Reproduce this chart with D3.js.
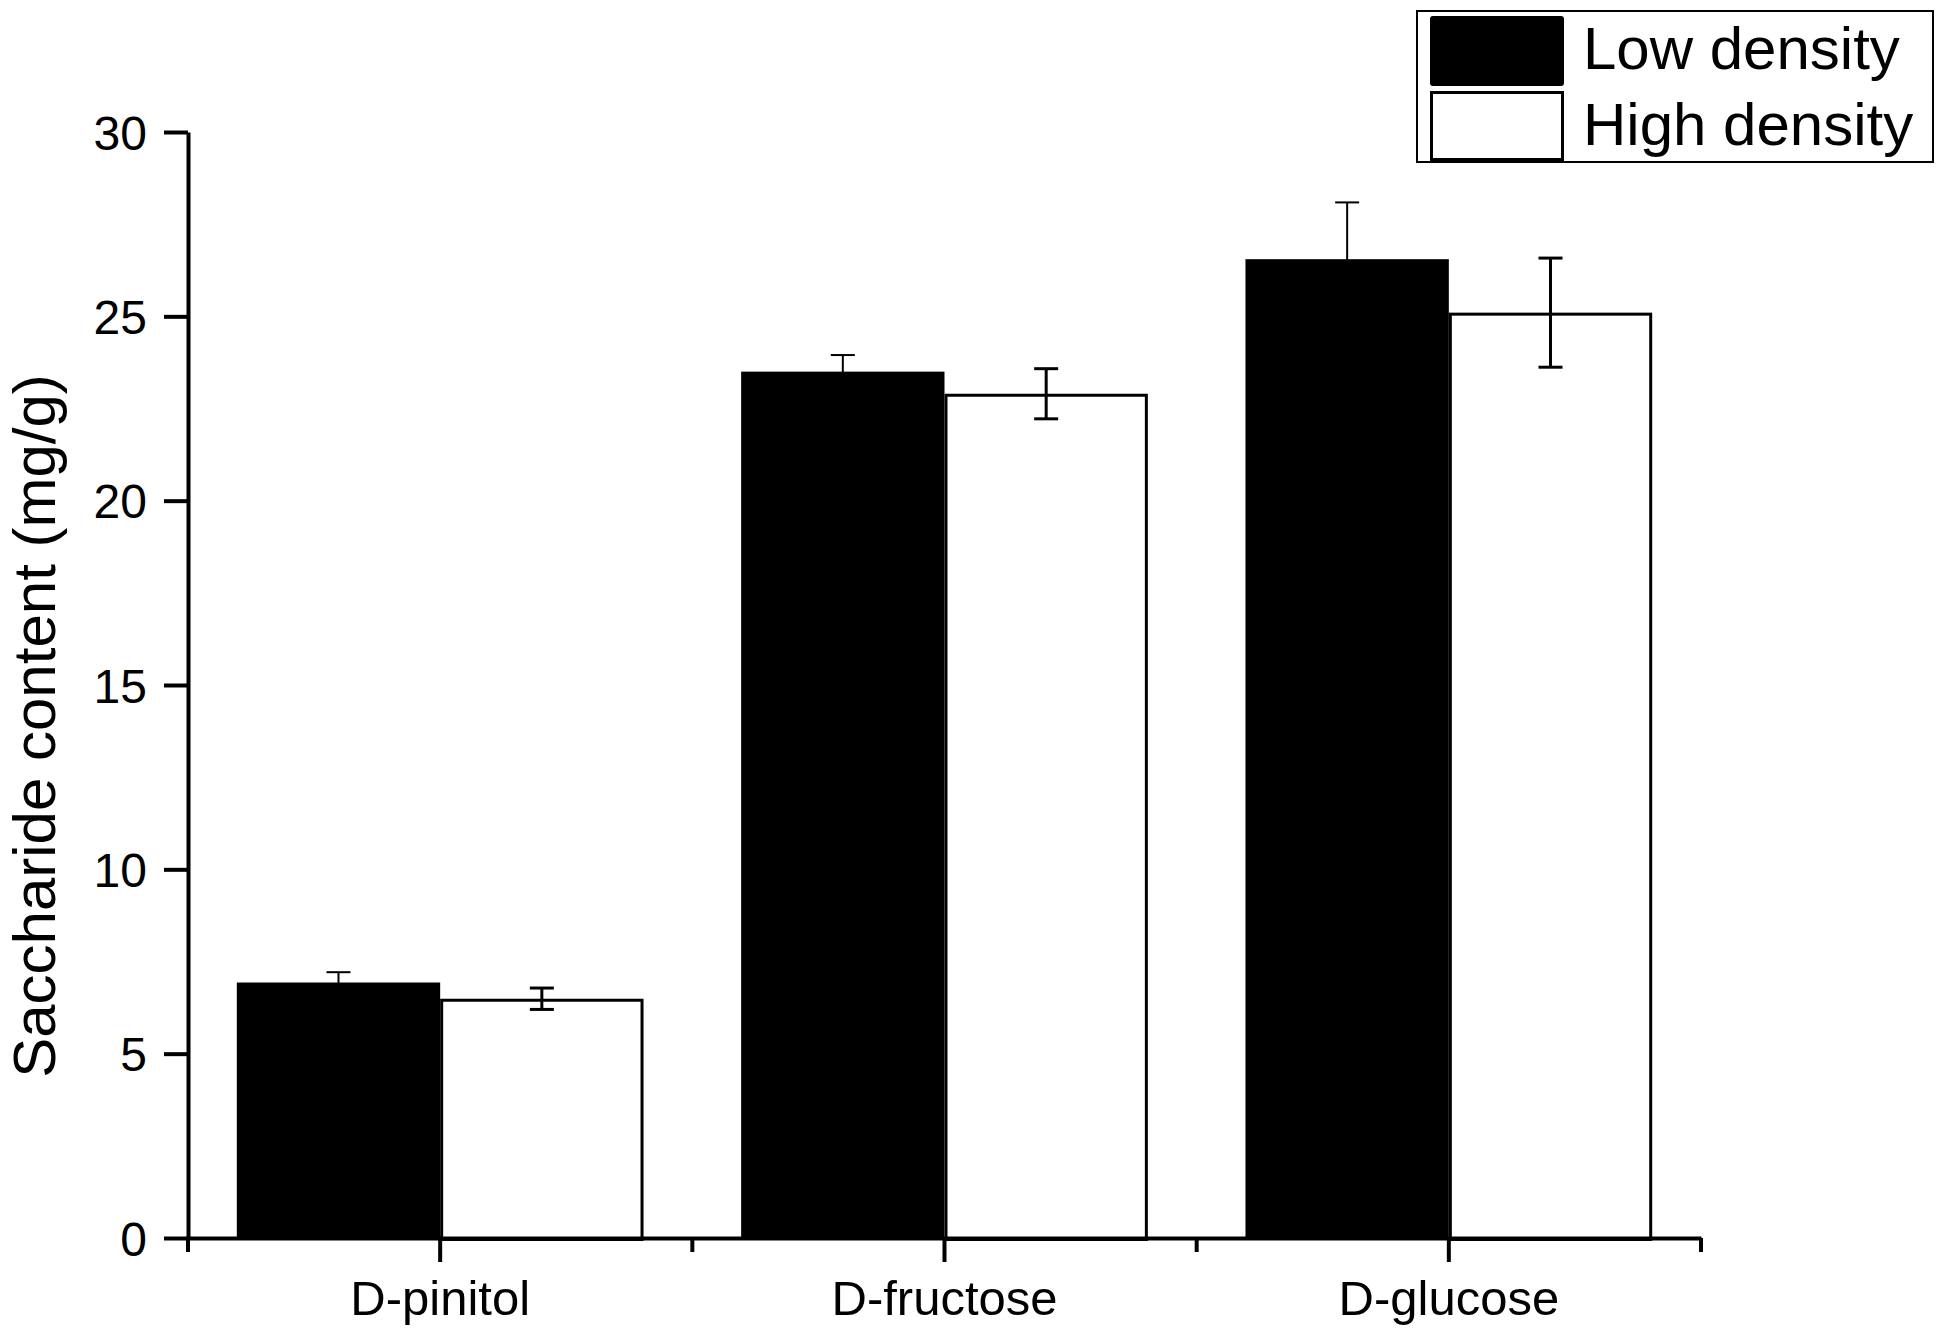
<!DOCTYPE html>
<html>
<head>
<meta charset="utf-8">
<script src="https://cdn.jsdelivr.net/npm/d3@7"></script>
<style>
  body { margin: 0; background: #fff; }
  text { font-family: "Liberation Sans", Arial, sans-serif; fill: #000; }
</style>
</head>
<body>
<div id="chart"></div>
<script>
// Data
const categories = ['D-pinitol', 'D-fructose', 'D-glucose'];
const seriesNames = ['Low density', 'High density'];
const lowDensity = [6.93, 23.5, 26.55];
const lowErr = [0.28, 0.45, 1.54];
const highDensity = [6.49, 22.9, 25.1];
const highErr = [0.29, 0.68, 1.48];
const yTicks = [0, 5, 10, 15, 20, 25, 30];

const width = 1946;
const height = 1335;
const plot = { left: 188, right: 1701, top: 132, bottom: 1238 };

const rows = categories.map((c, i) => ({
  category: c,
  values: [
    { series: seriesNames[0], value: lowDensity[i], err: lowErr[i] },
    { series: seriesNames[1], value: highDensity[i], err: highErr[i] }
  ]
}));

const svg = d3.select('#chart')
  .append('svg')
  .attr('width', width)
  .attr('height', height);

svg.append('rect')
  .attr('width', width)
  .attr('height', height)
  .attr('fill', '#fff');

// Scales
const x0 = d3.scaleBand()
  .domain(categories)
  .range([plot.left, plot.right])
  .padding(0);

const x1 = d3.scaleBand()
  .domain(seriesNames)
  .range([0, x0.bandwidth()])
  .paddingInner(0)
  .paddingOuter(0.24);

const y = d3.scaleLinear()
  .domain([0, 30])
  .range([plot.bottom, plot.top]);

// Bars
const groups = svg.selectAll('.group')
  .data(rows)
  .enter()
  .append('g')
  .attr('class', 'group')
  .attr('transform', d => `translate(${x0(d.category)},0)`);

groups.selectAll('.bar')
  .data(d => d.values)
  .enter()
  .append('rect')
  .attr('class', 'bar')
  .attr('x', d => d.series === seriesNames[0] ? x1(d.series) : x1(d.series) + 1.5)
  .attr('y', d => d.series === seriesNames[0] ? y(d.value) : y(d.value) + 1.5)
  .attr('width', d => d.series === seriesNames[0] ? x1.bandwidth() : x1.bandwidth() - 3)
  .attr('height', d => plot.bottom - y(d.value))
  .attr('fill', d => d.series === seriesNames[0] ? '#000' : '#fff')
  .attr('stroke', d => d.series === seriesNames[0] ? 'none' : '#000')
  .attr('stroke-width', 3);

// Error bars
const errs = groups.selectAll('.err')
  .data(d => d.values)
  .enter()
  .append('g')
  .attr('class', 'err')
  .attr('transform', d => `translate(${x1(d.series) + x1.bandwidth() / 2},0)`)
  .attr('stroke', '#000')
  .attr('stroke-width', d => d.series === seriesNames[0] ? 2 : 3);

errs.append('line')
  .attr('x1', 0).attr('x2', 0)
  .attr('y1', d => y(d.value + d.err))
  .attr('y2', d => y(d.value - d.err));

errs.append('line')
  .attr('x1', -12).attr('x2', 12)
  .attr('y1', d => y(d.value + d.err))
  .attr('y2', d => y(d.value + d.err));

errs.append('line')
  .attr('x1', -12).attr('x2', 12)
  .attr('y1', d => y(d.value - d.err))
  .attr('y2', d => y(d.value - d.err));

// Y axis
const yAxis = svg.append('g')
  .attr('transform', `translate(${plot.left},0)`)
  .call(d3.axisLeft(y)
    .tickValues(yTicks)
    .tickSize(24)
    .tickSizeOuter(0)
    .tickPadding(17));

yAxis.select('.domain').attr('stroke-width', 4);
yAxis.selectAll('.tick line').attr('stroke-width', 4);
yAxis.selectAll('.tick text')
  .style('font-size', '48px')
  .attr('dy', '0.36em');

// X axis: major ticks at categories
const xAxis = svg.append('g')
  .attr('transform', `translate(0,${plot.bottom})`)
  .call(d3.axisBottom(x0)
    .tickSize(24)
    .tickSizeOuter(0)
    .tickPadding(18));

xAxis.select('.domain').attr('stroke-width', 4);
xAxis.selectAll('.tick line').attr('stroke-width', 4);
xAxis.selectAll('.tick text')
  .style('font-size', '49px');

// minor ticks at the category boundaries
const boundaries = categories.map(c => x0(c)).concat([x0.range()[1]]);
xAxis.selectAll('.minor')
  .data(boundaries)
  .enter()
  .append('line')
  .attr('class', 'minor')
  .attr('x1', d => d).attr('x2', d => d)
  .attr('y1', 0).attr('y2', 14)
  .attr('stroke', '#000')
  .attr('stroke-width', 4);

// Y title
svg.append('text')
  .attr('transform', 'translate(55,726) rotate(-90)')
  .attr('text-anchor', 'middle')
  .style('font-size', '60px')
  .text('Saccharide content (mg/g)');

// Legend
const legend = svg.append('g').attr('class', 'legend');

legend.append('rect')
  .attr('x', 1426).attr('y', 11)
  .attr('width', 516).attr('height', 151)
  .attr('fill', '#fff')
  .attr('stroke', '#000')
  .attr('stroke-width', 2);

const legendRows = [
  { name: seriesNames[0], fill: '#000', y: 16, base: 69 },
  { name: seriesNames[1], fill: '#fff', y: 91, base: 145 }
];

legend.selectAll('.swatch')
  .data(legendRows)
  .enter()
  .append('rect')
  .attr('class', 'swatch')
  .attr('x', d => d.fill === '#000' ? 1439 : 1440.5)
  .attr('y', d => d.fill === '#000' ? d.y : d.y + 1.5)
  .attr('width', d => d.fill === '#000' ? 134 : 131)
  .attr('height', d => d.fill === '#000' ? 70 : 67)
  .attr('rx', d => d.fill === '#000' ? 3 : 0)
  .attr('fill', d => d.fill)
  .attr('stroke', d => d.fill === '#000' ? 'none' : '#000')
  .attr('stroke-width', 3);

legend.selectAll('.label')
  .data(legendRows)
  .enter()
  .append('text')
  .attr('class', 'label')
  .attr('x', 1592)
  .attr('y', d => d.base)
  .style('font-size', '60px')
  .text(d => d.name);

// the whole legend sits a little further left in the reference
legend.attr('transform', 'translate(-9,0)');
</script>
</body>
</html>
